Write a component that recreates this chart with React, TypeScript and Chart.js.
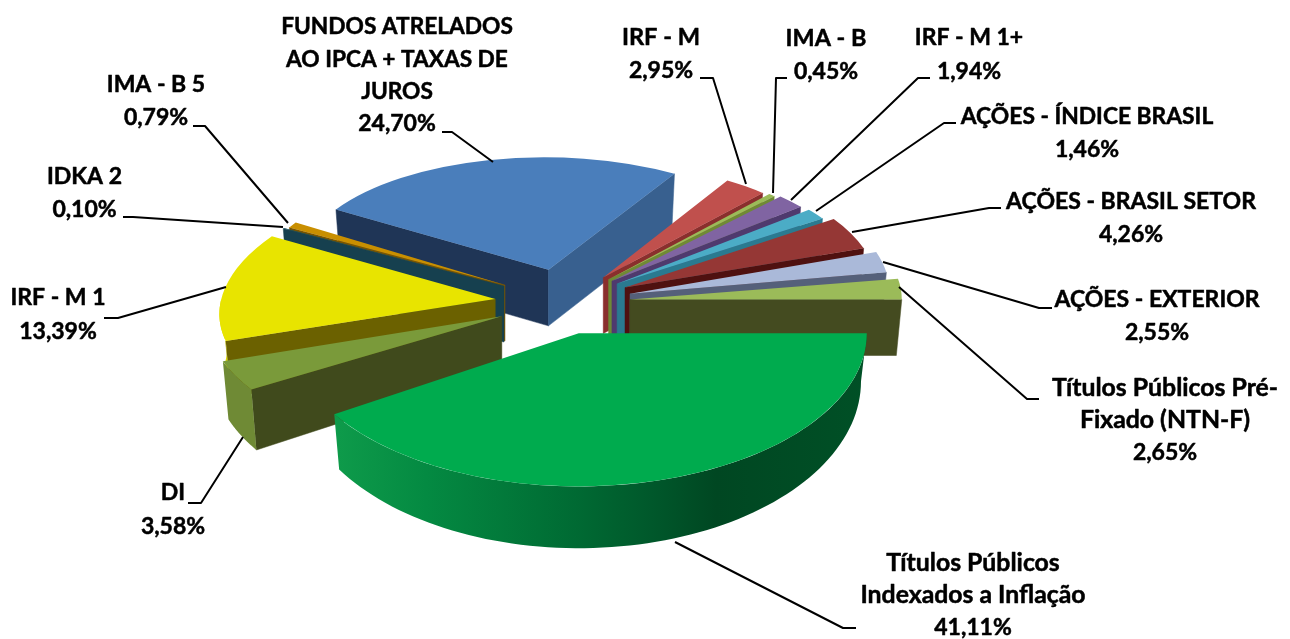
import React, { useEffect, useRef } from "react";
import { Chart, registerables } from "chart.js";

Chart.register(...registerables);

// ---- data, clockwise from 3 o'clock ----
const categories = [
  "Títulos Públicos\nIndexados a Inflação",
  "DI",
  "IRF - M 1",
  "IDKA 2",
  "IMA - B 5",
  "FUNDOS ATRELADOS\nAO IPCA + TAXAS DE\nJUROS",
  "IRF - M",
  "IMA - B",
  "IRF - M 1+",
  "AÇÕES - ÍNDICE BRASIL",
  "AÇÕES - BRASIL SETOR",
  "AÇÕES - EXTERIOR",
  "Títulos Públicos Pré-\nFixado (NTN-F)",
];
const values = [41.11, 3.58, 13.39, 0.1, 0.79, 24.7, 2.95, 0.45, 1.94, 1.46, 4.26, 2.55, 2.65];

// ---- styling ----
const topColors = ["#00ab4e", "#7a9a3a", "#e8e400", "#17505f", "#c98f00", "#4a7ebb", "#c0504d", "#9bbb59", "#8064a2", "#4bacc6", "#953735", "#aab9d9", "#9bbb59"];
const startWall = ["#00602e", "#404a1c", "#6b6100", "#16404f", "#7a5500", "#1f3556", "#8a2f2d", "#6f8a35", "#4f3a6e", "#2a7a90", "#4f1110", "#55607a", "#444b20"];
const endWall = ["#00602e", "#6f8a35", "#6b6100", "#16404f", "#7a5500", "#38608f", "#8a2f2d", "#6f8a35", "#4f3a6e", "#2a7a90", "#4f1110", "#55607a", "#444b20"];
const rimColor = ["#00602e", "#6f8a35", "#dcd800", "#16404f", "#7a5500", "#38608f", "#8a2f2d", "#6f8a35", "#4f3a6e", "#2a7a90", "#4f1110", "#55607a", "#444b20"];
const explode = [61, 70, 70, 70, 70, 73, 64, 64, 64, 65, 67, 67, 65];
const nudgeX = [-3, 0, 0, 0, 0, 0, 0, 0, 0, 0, 0, 0, 0];
const radii = [288, 295, 274, 253, 248, 249, 238, 240, 244, 248, 252, 260, 272];
const squash = [0.532, 0.47, 0.47, 0.465, 0.47, 0.452, 0.478, 0.48, 0.48, 0.47, 0.485, 0.5, 0.46];
const shear = [0, 0, -0.25, 0, 0, 0.04, 0, 0, 0, 0, 0, 0, 0];
const depths = [48, 54, 56, 56, 56, 56, 56, 56, 56, 56, 56, 56, 56];
const bottomOpen = [1.09, 1.09, 1, 1, 1, 1, 1, 1, 1, 1, 1, 1, 1];
const TAPER = 0.98;

const CX = 565;
const CY = 302;
const R0 = 250;

type Lbl = { cx: number; y: number; gap: number; size: number; leader: number[][] };
const labelLayout: Lbl[] = [
  { cx: 973, y: 563, gap: 32.5, size: 24.8, leader: [[675, 542], [843, 628], [856, 628]] },
  { cx: 173, y: 493, gap: 34, size: 23, leader: [[243, 437], [201, 503], [188, 503]] },
  { cx: 58, y: 298, gap: 34, size: 23, leader: [[226, 287], [118, 318], [104, 318]] },
  { cx: 84.5, y: 177, gap: 33, size: 23, leader: [[283, 227], [133, 217], [123, 217]] },
  { cx: 156, y: 85, gap: 33, size: 23, leader: [[288, 223], [205, 126], [193, 126]] },
  { cx: 397, y: 27, gap: 32.3, size: 22.7, leader: [[493, 162], [452, 132], [442, 132]] },
  { cx: 661, y: 37, gap: 34, size: 23.6, leader: [[746, 184], [713, 78], [700, 78]] },
  { cx: 826, y: 38, gap: 34, size: 23.4, leader: [[773, 193], [776, 78], [787, 78]] },
  { cx: 969, y: 38, gap: 34, size: 23, leader: [[791, 200], [918, 78], [930, 78]] },
  { cx: 1087, y: 117, gap: 33, size: 22.8, leader: [[816, 211], [944, 123], [956, 123]] },
  { cx: 1131, y: 202, gap: 33, size: 23, leader: [[852, 232], [989, 208], [1001, 208]] },
  { cx: 1157, y: 300, gap: 33, size: 23, leader: [[883, 262], [1039, 308], [1052, 308]] },
  { cx: 1165, y: 388, gap: 32.5, size: 24.8, leader: [[899, 287], [1027, 399], [1039, 399]] },
];

const pie3d = {
  id: "pie3d",
  beforeDatasetDraw(chart: any, args: any) {
    const ctx = chart.ctx;
    const arcs = args.meta.data;
    const order = arcs
      .map((a: any, i: number) => ({ a, i, m: Math.sin((a.startAngle + a.endAngle) / 2) }))
      .sort((p: any, q: any) => p.m - q.m);
    for (const { a, i } of order) {
      const mid = (a.startAngle + a.endAngle) / 2;
      const R = radii[i];
      const k = squash[i];
      const D = depths[i];
      const sh = shear[i];
      const vx = CX + explode[i] * Math.cos(mid) + nudgeX[i];
      const vy = CY + explode[i] * Math.sin(mid) * k;
      const top = (t: number) => {
        const y = R * k * Math.sin(t);
        return [vx + R * Math.cos(t) + sh * y, vy + y];
      };
      const low = (t: number) => {
        const y = R * k * Math.sin(t);
        return [vx + R * TAPER * Math.cos(t) + sh * y, vy + D + y * bottomOpen[i]];
      };
      const face = (t: number, color: string) => {
        const p = top(t);
        const q = low(t);
        ctx.fillStyle = color;
        ctx.strokeStyle = color;
        ctx.lineWidth = 0.5;
        ctx.beginPath();
        ctx.moveTo(vx, vy);
        ctx.lineTo(p[0], p[1]);
        ctx.lineTo(q[0], q[1]);
        ctx.lineTo(vx, vy + D);
        ctx.closePath();
        ctx.fill();
        ctx.stroke();
      };
      if (Math.cos(a.startAngle) < 0) face(a.startAngle, startWall[i]);
      if (Math.cos(a.endAngle) > 0) face(a.endAngle, endWall[i]);
      // outer rim, only the half that faces the viewer
      const t0 = Math.max(a.startAngle, 0);
      const t1 = Math.min(a.endAngle, Math.PI);
      if (t1 > t0) {
        let fill: any = rimColor[i];
        if (i === 0) {
          const g = ctx.createLinearGradient(vx - 250, 0, vx + R, 0);
          g.addColorStop(0, "#0f9c4b");
          g.addColorStop(0.18, "#048a42");
          g.addColorStop(0.46, "#006a33");
          g.addColorStop(0.6, "#00582b");
          g.addColorStop(0.72, "#004722");
          g.addColorStop(1, "#005026");
          fill = g;
        }
        ctx.fillStyle = fill;
        ctx.beginPath();
        const N = 80;
        for (let s = 0; s <= N; s++) {
          const p = top(t0 + ((t1 - t0) * s) / N);
          if (s === 0) ctx.moveTo(p[0], p[1]);
          else ctx.lineTo(p[0], p[1]);
        }
        for (let s = N; s >= 0; s--) {
          const p = low(t0 + ((t1 - t0) * s) / N);
          ctx.lineTo(p[0], p[1]);
        }
        ctx.closePath();
        ctx.fill();
      }
      // the library's own slice, squashed into the ground plane
      ctx.save();
      ctx.translate(vx, vy);
      ctx.transform(1, 0, sh, 1, 0, 0);
      ctx.scale(R / a.outerRadius, (R * k) / a.outerRadius);
      ctx.translate(-a.x, -a.y);
      a.draw(ctx);
      ctx.restore();
    }
    return false;
  },
  afterDraw(chart: any) {
    const ctx = chart.ctx;
    ctx.save();
    ctx.fillStyle = "#000";
    ctx.strokeStyle = "#000";
    ctx.textAlign = "center";
    ctx.textBaseline = "middle";
    ctx.lineJoin = "round";
    labelLayout.forEach((l, i) => {
      const names = categories[i].split("\n");
      const pct = values[i].toFixed(2).replace(".", ",") + "%";
      const put = (s: string, n: number, size: number) => {
        ctx.font = `bold ${size}px Lato`;
        ctx.lineWidth = 0.5;
        ctx.fillText(s, l.cx, l.y + n * l.gap);
        ctx.strokeText(s, l.cx, l.y + n * l.gap);
      };
      names.forEach((s, n) => put(s, n, l.size));
      put(pct, names.length, 23);
      ctx.lineWidth = 2;
      ctx.beginPath();
      l.leader.forEach(([x, y], n) => (n ? ctx.lineTo(x, y) : ctx.moveTo(x, y)));
      ctx.stroke();
    });
    ctx.restore();
  },
};

export default function App() {
  const ref = useRef<HTMLCanvasElement>(null);
  useEffect(() => {
    document.body.style.margin = "0";
    const chart = new Chart(ref.current as HTMLCanvasElement, {
      type: "pie",
      data: {
        labels: categories,
        datasets: [{ data: values, backgroundColor: topColors, borderWidth: 0 }],
      },
      options: {
        responsive: false,
        animation: false,
        rotation: 90,
        layout: { padding: { left: CX - R0, right: 1290 - CX - R0, top: CY - R0, bottom: 639 - CY - R0 } },
        plugins: { legend: { display: false }, tooltip: { enabled: false } },
      },
      plugins: [pie3d],
    } as any);
    return () => chart.destroy();
  }, []);
  return (
    <div style={{ width: 1290, height: 639, background: "#fff" }}>
      <canvas ref={ref} width={1290} height={639} style={{ display: "block" }} />
    </div>
  );
}
